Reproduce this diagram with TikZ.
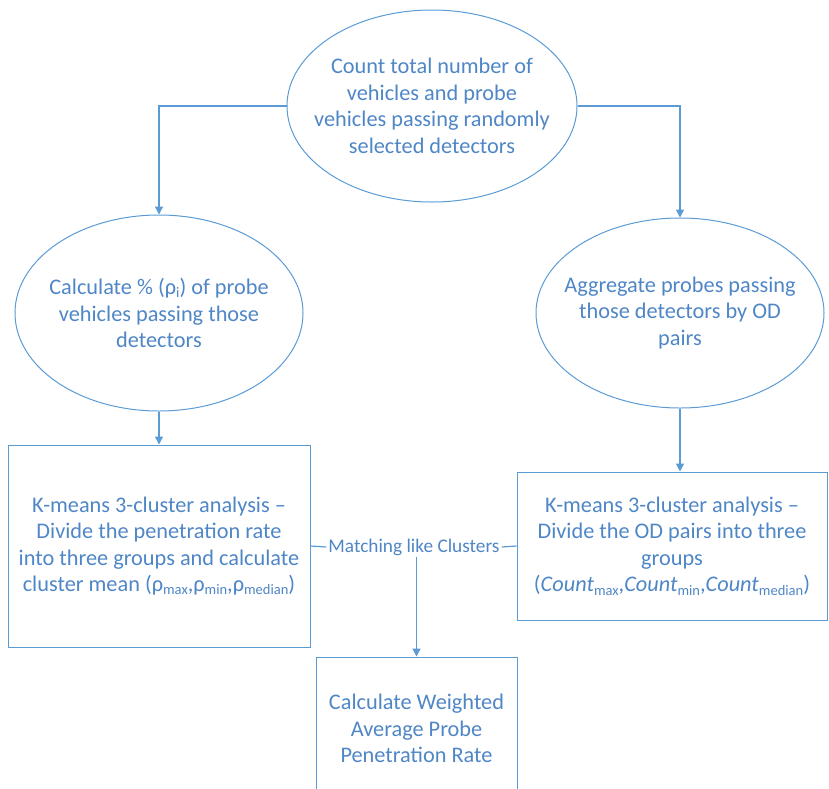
\documentclass[tikz,border=0pt]{standalone}
\usepackage{fontspec}
\setmainfont{Carlito}
\usetikzlibrary{shapes.geometric,arrows.meta}
\definecolor{lineblue}{RGB}{91,155,213}
\definecolor{textblue}{RGB}{79,134,198}
\newcommand{\lowsub}[1]{\raisebox{-0.3ex}{\fontsize{14.5}{14.5}\selectfont #1}}
\begin{document}
\begin{tikzpicture}[x=1pt,y=-1pt,
  txt/.style={font=\fontsize{22.3}{26.5}\selectfont, text=textblue, align=center},
  ell/.style={draw=lineblue, line width=1pt, ellipse, inner sep=0pt},
  boxnode/.style={txt, draw=lineblue, line width=1pt, rectangle, inner sep=0pt},
  conn/.style={draw=lineblue, line width=1.2pt},
  arr/.style={conn, -{Triangle[length=8pt,width=8pt]}}]
\useasboundingbox (0,0) rectangle (829,788);
\node[ell, minimum width=290, minimum height=192] (top) at (432,106) {};
\node[txt] (topt) at (top.center)
  {Count total number of\\vehicles and probe\\vehicles passing randomly\\selected detectors};
\node[ell, minimum width=288, minimum height=196] (lell) at (159,313) {};
\node[txt] (lellt) at (lell.center)
  {Calculate \% (ρ\lowsub{i}) of probe\\vehicles passing those\\detectors};
\node[ell, minimum width=288, minimum height=190] (rell) at (680,313) {};
\node[txt] (rellt) at (rell.center)
  {Aggregate probes passing\\those detectors by OD\\pairs};
\node[boxnode, minimum width=302, minimum height=202] (lbox) at (159,546)
  {K-means 3-cluster analysis --\\Divide the penetration rate\\into three groups and calculate\\cluster mean (ρ\lowsub{max},ρ\lowsub{min},ρ\lowsub{median})};
\node[boxnode, minimum width=310, minimum height=148] (rbox) at (672,546)
  {K-means 3-cluster analysis --\\Divide the OD pairs into three\\groups\\(\textit{Count}\lowsub{max},\textit{Count}\lowsub{min},\textit{Count}\lowsub{median})};
\node[boxnode, minimum width=201, minimum height=143] (bbox) at (416.5,728.5)
  {Calculate Weighted\\Average Probe\\Penetration Rate};
\node[txt, inner xsep=2pt, inner ysep=1pt, font=\fontsize{19.3}{22}\selectfont] (match) at (414,547) {Matching like Clusters};
\draw[arr] (top.west) -| (lell.north);
\draw[arr] (top.east) -| (rell.north);
\draw[arr] (lell.south) -- (lbox.north);
\draw[arr] (rell.south) -- (rell.south |- rbox.north);
\draw[conn] (lbox.east) -- (match.west);
\draw[conn] (match.east) -- (rbox.west);
\draw[arr] (bbox.north |- match.south) -- (bbox.north);
\end{tikzpicture}
\end{document}
